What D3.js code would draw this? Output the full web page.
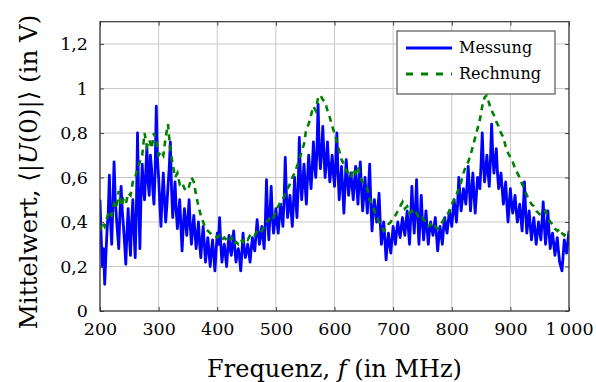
<!DOCTYPE html>
<html><head><meta charset="utf-8">
<script src="https://cdn.jsdelivr.net/npm/d3@7"></script>
<style>
html,body{margin:0;padding:0;background:#fff;}
svg{display:block;}
text{font-family:"DejaVu Serif","Liberation Serif",serif;fill:#000;}
</style></head>
<body>
<svg id="chart" width="596" height="382"></svg>
<script>
// Measurement (Messung), V — frequency grid 200..1000 MHz, step 2 MHz
const messungStart = 200, messungStep = 2;
const messung = [
  0.50,0.33,0.20,0.28,0.12,0.25,0.36,0.44,0.61,0.40,0.30,0.48,0.67,0.50,0.42,0.35,0.28,0.44,0.56,0.45,0.38,0.30,0.21,0.35,0.46,
  0.34,0.25,0.40,0.50,0.36,0.24,0.45,0.80,0.50,0.28,0.52,0.66,0.55,0.50,0.62,0.74,0.58,0.52,0.70,0.64,0.55,0.48,0.62,0.92,0.68,
  0.60,0.48,0.38,0.52,0.62,0.50,0.40,0.47,0.56,0.64,0.76,0.55,0.42,0.50,0.58,0.45,0.37,0.44,0.50,0.38,0.27,0.38,0.46,0.40,0.34,
  0.42,0.50,0.38,0.30,0.37,0.43,0.35,0.28,0.34,0.40,0.30,0.24,0.32,0.38,0.30,0.22,0.28,0.33,0.26,0.20,0.27,0.32,0.25,0.18,0.27,
  0.35,0.30,0.42,0.30,0.22,0.27,0.30,0.25,0.20,0.28,0.34,0.28,0.25,0.30,0.36,0.28,0.22,0.26,0.28,0.24,0.18,0.26,0.35,0.28,0.24,
  0.27,0.30,0.26,0.22,0.28,0.33,0.29,0.27,0.34,0.41,0.35,0.30,0.34,0.38,0.33,0.28,0.40,0.59,0.42,0.32,0.44,0.56,0.42,0.35,0.40,
  0.46,0.40,0.35,0.42,0.48,0.43,0.38,0.50,0.69,0.52,0.42,0.47,0.52,0.45,0.38,0.48,0.60,0.50,0.42,0.55,0.78,0.60,0.50,0.58,0.66,
  0.56,0.48,0.60,0.70,0.62,0.55,0.64,0.76,0.66,0.60,0.72,0.93,0.72,0.64,0.72,0.83,0.70,0.60,0.68,0.76,0.66,0.58,0.64,0.70,0.62,
  0.56,0.66,0.80,0.62,0.50,0.58,0.65,0.55,0.44,0.56,0.68,0.60,0.52,0.58,0.62,0.56,0.50,0.58,0.65,0.56,0.48,0.58,0.67,0.55,0.45,
  0.52,0.60,0.52,0.44,0.55,0.66,0.48,0.36,0.44,0.50,0.45,0.40,0.46,0.53,0.40,0.30,0.35,0.40,0.32,0.23,0.30,0.35,0.30,0.26,0.32,
  0.38,0.34,0.30,0.36,0.40,0.36,0.33,0.38,0.42,0.37,0.34,0.40,0.45,0.37,0.30,0.42,0.56,0.44,0.35,0.46,0.59,0.42,0.30,0.40,0.52,
  0.40,0.32,0.38,0.45,0.37,0.30,0.36,0.40,0.37,0.34,0.38,0.42,0.34,0.27,0.33,0.38,0.34,0.30,0.37,0.42,0.38,0.35,0.40,0.45,0.42,
  0.38,0.44,0.50,0.45,0.40,0.48,0.60,0.52,0.45,0.50,0.55,0.52,0.48,0.56,0.65,0.55,0.45,0.54,0.62,0.52,0.44,0.52,0.60,0.58,0.55,
  0.66,0.80,0.66,0.58,0.64,0.70,0.62,0.56,0.68,0.84,0.70,0.62,0.68,0.73,0.62,0.55,0.58,0.62,0.55,0.48,0.53,0.58,0.48,0.40,0.48,
  0.55,0.48,0.44,0.48,0.52,0.45,0.40,0.44,0.48,0.42,0.36,0.46,0.58,0.45,0.35,0.40,0.45,0.38,0.32,0.37,0.42,0.36,0.30,0.35,0.40,
  0.36,0.32,0.40,0.49,0.38,0.30,0.37,0.45,0.35,0.28,0.32,0.35,0.30,0.25,0.29,0.33,0.27,0.22,0.20,0.18,0.25,0.32,0.29,0.26,0.31,
  0.36
];

// Calculation (Rechnung), V — frequency grid 200..1000 MHz, step 4 MHz
const rechnungStart = 200, rechnungStep = 4;
const rechnung = [
  0.36,0.40,0.38,0.42,0.45,0.43,0.48,0.46,0.54,0.47,0.50,0.48,0.53,0.52,0.58,0.60,0.64,0.67,0.70,0.80,0.74,0.77,0.73,0.80,0.76,
  0.70,0.72,0.70,0.78,0.84,0.72,0.66,0.60,0.62,0.57,0.58,0.55,0.54,0.56,0.60,0.58,0.52,0.47,0.43,0.40,0.37,0.36,0.35,0.34,0.34,
  0.33,0.34,0.32,0.33,0.32,0.31,0.33,0.30,0.31,0.30,0.32,0.31,0.33,0.32,0.34,0.35,0.34,0.36,0.37,0.36,0.38,0.40,0.41,0.43,0.42,
  0.45,0.47,0.49,0.50,0.53,0.55,0.57,0.60,0.62,0.65,0.68,0.72,0.75,0.82,0.84,0.88,0.92,0.90,0.96,0.97,0.95,0.94,0.90,0.87,0.83,
  0.80,0.76,0.72,0.68,0.66,0.63,0.62,0.60,0.64,0.62,0.65,0.60,0.58,0.57,0.55,0.50,0.48,0.45,0.42,0.40,0.38,0.36,0.37,0.39,0.40,
  0.42,0.43,0.45,0.47,0.49,0.46,0.47,0.44,0.45,0.43,0.44,0.42,0.43,0.41,0.40,0.38,0.39,0.37,0.38,0.37,0.39,0.40,0.42,0.43,0.45,
  0.48,0.50,0.52,0.55,0.58,0.62,0.65,0.67,0.70,0.74,0.78,0.82,0.86,0.92,0.96,0.97,0.93,0.90,0.88,0.85,0.83,0.80,0.78,0.74,0.71,
  0.69,0.67,0.64,0.62,0.60,0.57,0.55,0.52,0.50,0.48,0.47,0.45,0.44,0.43,0.44,0.45,0.42,0.40,0.39,0.37,0.36,0.37,0.35,0.34,0.36,0.35
];

const xTicks = [200,300,400,500,600,700,800,900,1000];
const xTickLabels = ["200","300","400","500","600","700","800","900","1\u2009000"];
const yTicks = [0,0.2,0.4,0.6,0.8,1.0,1.2];
const yTickLabels = ["0","0,2","0,4","0,6","0,8","1","1,2"];
const seriesNames = ["Messung","Rechnung"];

const svg = d3.select("#chart");
const L = 100, R = 569, T = 21.7, B = 311;
const x = d3.scaleLinear().domain([200,1000]).range([L,R]);
const y = d3.scaleLinear().domain([0,1.3]).range([B,T]);

// grid
const g = svg.append("g");
g.selectAll("line.vx").data(xTicks).join("line")
  .attr("x1",d=>x(d)).attr("x2",d=>x(d)).attr("y1",T).attr("y2",B)
  .attr("stroke","#c8c8c8").attr("stroke-width",1);
g.selectAll("line.hy").data(yTicks).join("line")
  .attr("y1",d=>y(d)).attr("y2",d=>y(d)).attr("x1",L).attr("x2",R)
  .attr("stroke","#c8c8c8").attr("stroke-width",1);

// lines
const clipId="plotclip";
svg.append("clipPath").attr("id",clipId).append("rect").attr("x",L).attr("y",T).attr("width",R-L).attr("height",B-T);
const lineM = d3.line().x((d,i)=>x(messungStart + i*messungStep)).y(d=>y(d));
const lineR = d3.line().x((d,i)=>x(rechnungStart + i*rechnungStep)).y(d=>y(d));
svg.append("path").datum(messung).attr("d",lineM).attr("fill","none")
  .attr("stroke","#0000ff").attr("stroke-width",2.8).attr("stroke-linejoin","round")
  .attr("clip-path",`url(#${clipId})`);
svg.append("path").datum(rechnung).attr("d",lineR).attr("fill","none")
  .attr("stroke","#008000").attr("stroke-width",2.6).attr("stroke-dasharray","6,5")
  .attr("clip-path",`url(#${clipId})`);

// axes via d3 axis
const xAxis = d3.axisBottom(x).tickValues(xTicks).tickFormat((d,i)=>xTickLabels[i]).tickSizeInner(-4).tickSizeOuter(0).tickPadding(12);
const yAxis = d3.axisLeft(y).tickValues(yTicks).tickFormat((d,i)=>yTickLabels[i]).tickSizeInner(-4).tickSizeOuter(0).tickPadding(12);
const xa = svg.append("g").attr("transform",`translate(0,${B})`).call(xAxis);
const ya = svg.append("g").attr("transform",`translate(${L},0)`).call(yAxis);
const xTop = svg.append("g").attr("transform",`translate(0,${T})`).call(d3.axisTop(x).tickValues(xTicks).tickFormat("").tickSizeInner(-4).tickSizeOuter(0));
const yRight = svg.append("g").attr("transform",`translate(${R},0)`).call(d3.axisRight(y).tickValues(yTicks).tickFormat("").tickSizeInner(-4).tickSizeOuter(0));
[xa,ya,xTop,yRight].forEach(a=>{a.select(".domain").remove();a.selectAll(".tick line").attr("stroke","#444");a.attr("font-family",null);});
xa.selectAll("text").attr("font-size",17.5).attr("fill","#000");
ya.selectAll("text").attr("font-size",17.5).attr("fill","#000");

// frame
svg.append("rect").attr("x",L).attr("y",T).attr("width",R-L).attr("height",B-T)
  .attr("fill","none").attr("stroke","#333").attr("stroke-width",1.2);

// axis titles
const xt = svg.append("text").attr("x",(L+R)/2).attr("y",377).attr("text-anchor","middle").attr("font-size",24);
xt.append("tspan").text("Frequenz, ");
xt.append("tspan").attr("font-style","italic").text("f");
xt.append("tspan").text(" (in MHz)");

const yt = svg.append("text").attr("transform",`translate(37,172) rotate(-90)`).attr("text-anchor","middle").attr("font-size",24.5);
yt.append("tspan").text("Mittelwert, \u27E8|");
yt.append("tspan").attr("font-style","italic").text("U");
yt.append("tspan").text("(0)|\u27E9 (in V)");

// legend
const lg = svg.append("g");
lg.append("rect").attr("x",397).attr("y",31).attr("width",158).attr("height",63)
  .attr("fill","#fff").attr("stroke","#555").attr("stroke-width",1.2);
const legendItems = [
  {name:seriesNames[0], color:"#0000ff", dash:null},
  {name:seriesNames[1], color:"#008000", dash:"7,8"}
];
legendItems.forEach((it,i)=>{
  const cy = 48 + i*26;
  const ln = lg.append("line").attr("x1",406).attr("x2",452).attr("y1",cy).attr("y2",cy)
    .attr("stroke",it.color).attr("stroke-width",2.8);
  if(it.dash) ln.attr("stroke-dasharray",it.dash);
  lg.append("text").attr("x",459).attr("y",cy+5).attr("font-size",16).text(it.name);
});
</script>
</body></html>
